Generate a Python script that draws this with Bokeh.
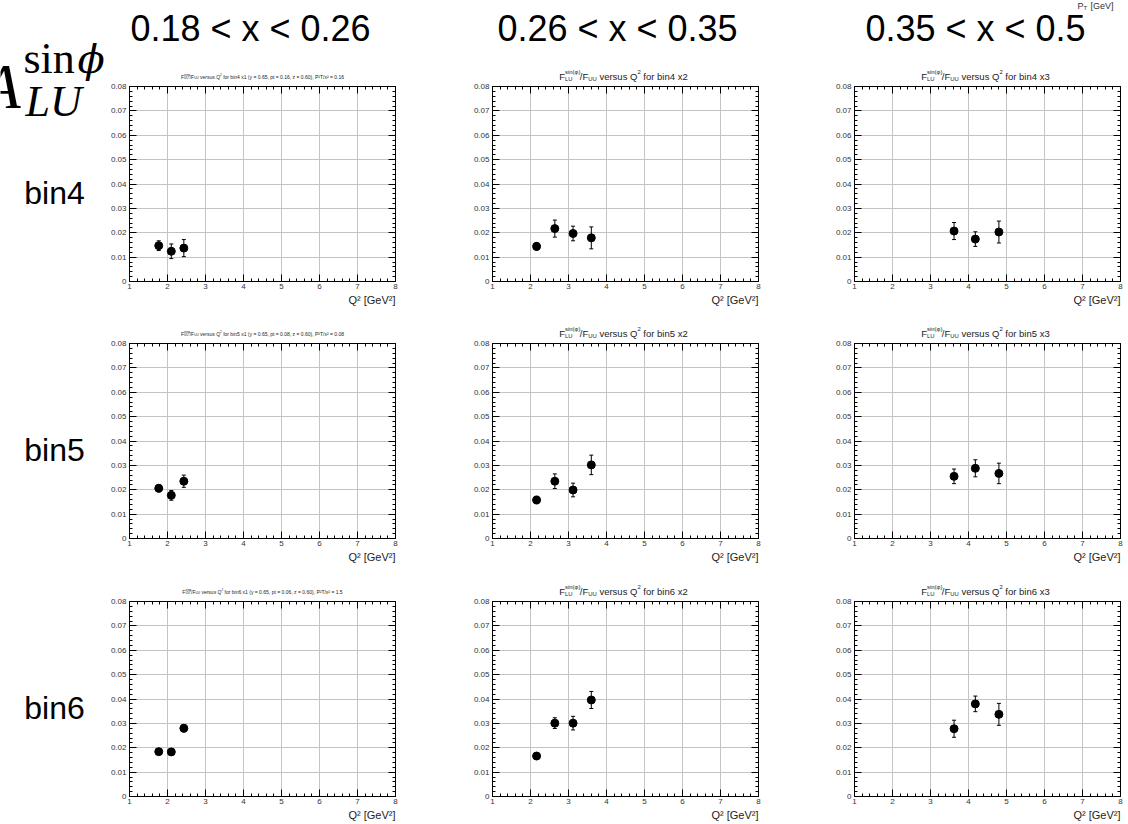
from bokeh.plotting import figure
from bokeh.layouts import row, column
from bokeh.models import (ColumnDataSource, Label, LinearAxis, Range1d, Whisker, Title,
                          TeeHead, FixedTicker, CustomJSTickFormatter)
from bokeh.embed import file_html
from bokeh.resources import INLINE

# ---------------------------------------------------------------- data
x_bin_labels = ["0.18 < x < 0.26", "0.26 < x < 0.35", "0.35 < x < 0.5"]
x_bin_tags = ["x1", "x2", "x3"]
pt_bin_labels = ["bin4", "bin5", "bin6"]

q2_x1 = [1.77, 2.10, 2.43]
q2_x2 = [2.16, 2.64, 3.12, 3.60]
q2_x3 = [3.62, 4.18, 4.80]

a_bin4_x1 = [0.0147, 0.0124, 0.0137]
e_bin4_x1 = [0.0020, 0.0030, 0.0035]
a_bin4_x2 = [0.0144, 0.0217, 0.0197, 0.0179]
e_bin4_x2 = [0.0015, 0.0035, 0.0030, 0.0045]
a_bin4_x3 = [0.0207, 0.0174, 0.0203]
e_bin4_x3 = [0.0035, 0.0030, 0.0045]

a_bin5_x1 = [0.0206, 0.0177, 0.0235]
e_bin5_x1 = [0.0015, 0.0020, 0.0025]
a_bin5_x2 = [0.0158, 0.0235, 0.0199, 0.0302]
e_bin5_x2 = [0.0015, 0.0030, 0.0028, 0.0040]
a_bin5_x3 = [0.0255, 0.0288, 0.0267]
e_bin5_x3 = [0.0030, 0.0035, 0.0042]

a_bin6_x1 = [0.0184, 0.0183, 0.0280]
e_bin6_x1 = [0.0010, 0.0013, 0.0015]
a_bin6_x2 = [0.0166, 0.0301, 0.0301, 0.0396]
e_bin6_x2 = [0.0012, 0.0022, 0.0028, 0.0035]
a_bin6_x3 = [0.0278, 0.0380, 0.0337]
e_bin6_x3 = [0.0035, 0.0032, 0.0045]

x1_kinematics = [
    "(y = 0.65, pt = 0.16, z = 0.60), P²T/x² = 0.16",
    "(y = 0.65, pt = 0.08, z = 0.60), P²T/x² = 0.08",
    "(y = 0.65, pt = 0.06, z = 0.60), P²T/x² = 1.5",
]

x_ticks = [1, 2, 3, 4, 5, 6, 7, 8]
y_ticks = [0, 0.01, 0.02, 0.03, 0.04, 0.05, 0.06, 0.07, 0.08]

q2_by_x = [q2_x1, q2_x2, q2_x3]
asym = [[a_bin4_x1, a_bin4_x2, a_bin4_x3],
        [a_bin5_x1, a_bin5_x2, a_bin5_x3],
        [a_bin6_x1, a_bin6_x2, a_bin6_x3]]
errs = [[e_bin4_x1, e_bin4_x2, e_bin4_x3],
        [e_bin5_x1, e_bin5_x2, e_bin5_x3],
        [e_bin6_x1, e_bin6_x2, e_bin6_x3]]

# ---------------------------------------------------------------- geometry
W, H = 1128, 824
LEFT_W = 104                       # strip holding the row labels
HEAD_H = 62                        # strip holding the x-bin headers
FW, FH = 266, 195                  # plot frame of every panel
col_borders = [(25, 45), (52, 46), (50, 8)]   # (left, right) around each frame
row_top = 4                                  # room for the mirrored top ticks
row_bottom = [30, 30, 28]
title_h = [20, 28, 29]                       # strips holding the panel titles

SANS = "Liberation Sans"
SERIF = "Liberation Serif"

ARIAL_W = {" ": .278, "(": .333, ")": .333, "/": .278, ",": .278, ".": .278,
           "=": .584, "²": .333, "i": .222, "l": .222, "f": .278, "t": .278,
           "r": .333, "s": .5, "v": .5, "x": .5, "y": .5, "z": .5, "F": .611,
           "L": .556, "U": .722, "Q": .778, "P": .667, "T": .611, "G": .778,
           "V": .667, "[": .278, "]": .278}


def text_w(s, size):
    return sum(ARIAL_W.get(c, 0.556) for c in s) * size


def text_strip(w, h):
    """A blank figure whose frame is the whole canvas; y runs downward in pixels."""
    s = figure(width=w, height=h, x_range=Range1d(0, w), y_range=Range1d(h, 0),
               min_border=0, x_axis_location=None, y_axis_location=None,
               toolbar_location=None, output_backend="svg", outline_line_color=None,
               background_fill_color="white", border_fill_color="white")
    s.grid.visible = False
    return s


def put(s, txt, x, y, size, font=SANS, style="normal", align="left",
        baseline="alphabetic", color="black"):
    lead = len(txt) - len(txt.lstrip(" "))
    x = x + text_w(" " * lead, size) if align == "left" else x
    s.add_layout(Label(x=x, y=y, text=txt.strip(" "), text_font_size=f"{size}px",
                       text_font=font, text_font_style=style, text_align=align,
                       text_baseline=baseline, text_color=color))


def rich(s, groups, cx, base_y, size, color="black"):
    """A line of text with super/subscripts, centred on cx."""
    small = size * 0.62
    widths = [max(text_w(t, small if k != "n" else size) for t, k in g) for g in groups]
    x = cx - sum(widths) / 2
    for g, w in zip(groups, widths):
        for t, k in g:
            if k == "n":
                put(s, t, x, base_y, size, color=color)
            elif k == "sup":
                put(s, t, x, base_y - 0.45 * size, small, color=color)
            else:
                put(s, t, x, base_y + 0.25 * size, small, color=color)
        x += w


def style_axis(ax, major_len, minor_len, labels=True):
    ax.axis_line_color = "black"
    ax.axis_line_width = 1
    ax.major_tick_line_color = "black"
    ax.minor_tick_line_color = "black"
    ax.major_tick_in = major_len
    ax.major_tick_out = 0
    ax.minor_tick_in = minor_len
    ax.minor_tick_out = 0
    ax.major_label_text_font = SANS
    ax.major_label_text_font_size = "8px" if labels else "1px"
    ax.major_label_text_color = "#333333"
    ax.major_label_standoff = 3 if labels else 0


x_minor = [1 + i * 0.2 for i in range(36)]
y_minor = [i * 0.002 for i in range(41)]
blank = CustomJSTickFormatter(code="return ''")

frame_left = [LEFT_W + col_borders[0][0],
              LEFT_W + sum(col_borders[0]) + FW + col_borders[1][0],
              LEFT_W + sum(col_borders[0]) + sum(col_borders[1]) + 2 * FW + col_borders[2][0]]


def make_panel(r, c):
    bl, br = col_borders[c]
    p = figure(frame_width=FW, frame_height=FH,
               x_range=Range1d(1, 8), y_range=Range1d(0, 0.08),
               min_border_left=bl, min_border_right=br,
               min_border_top=row_top, min_border_bottom=row_bottom[r],
               output_backend="svg", toolbar_location=None,
               background_fill_color="white", border_fill_color="white",
               outline_line_color="black")

    xt = FixedTicker(ticks=x_ticks, minor_ticks=x_minor)
    yt = FixedTicker(ticks=y_ticks, minor_ticks=y_minor)
    p.xaxis.ticker = xt
    p.yaxis.ticker = yt
    p.yaxis.major_label_overrides = {0: "0"}
    style_axis(p.xaxis[0], 7, 3)
    style_axis(p.yaxis[0], 7, 3)
    p.xaxis[0].major_label_standoff = 2

    top_ax = LinearAxis(ticker=xt, formatter=blank)
    right_ax = LinearAxis(ticker=yt, formatter=blank)
    style_axis(top_ax, 7, 3, labels=False)
    style_axis(right_ax, 7, 3, labels=False)
    p.add_layout(top_ax, "above")
    p.add_layout(right_ax, "right")

    p.xgrid.grid_line_color = "#c4c4c4"
    p.ygrid.grid_line_color = "#c4c4c4"

    xs, ys, es = q2_by_x[c], asym[r][c], errs[r][c]
    src = ColumnDataSource(dict(q2=xs, a=ys,
                                lo=[y - e for y, e in zip(ys, es)],
                                hi=[y + e for y, e in zip(ys, es)]))
    p.add_layout(Whisker(source=src, base="q2", lower="lo", upper="hi",
                         dimension="height", line_color="black", line_width=1,
                         lower_head=TeeHead(size=4, line_color="black", line_width=1),
                         upper_head=TeeHead(size=4, line_color="black", line_width=1)))
    p.scatter("q2", "a", source=src, marker="circle", size=8,
              fill_color="black", line_color="black")

    p.add_layout(Title(text="Q² [GeV²]", align="right", text_font=SANS,
                       text_font_size="11px", text_font_style="normal",
                       text_color="#222222", standoff=0), "below")
    return p


# ---------------------------------------------------------------- left strip
left = text_strip(LEFT_W, H)
put(left, "A", 20, 86, 64, font=SERIF, style="italic", align="right")
put(left, "sin", 23, 58, 44, font=SERIF)
put(left, "ϕ", 77, 58, 40, font="DejaVu Serif", style="italic")
put(left, "LU", 25, 101, 44, font=SERIF, style="italic")

row_frame_top = []
y = HEAD_H
for r in range(3):
    y += title_h[r] + row_top
    row_frame_top.append(y)
    y += FH + row_bottom[r]

for r in range(3):
    put(left, pt_bin_labels[r], 54, row_frame_top[r] + FH / 2 + 9, 32,
        align="center", baseline="middle")

# ---------------------------------------------------------------- header strip
head = text_strip(W - LEFT_W, HEAD_H)
header_cx = [250, 617, 975]
for c in range(3):
    put(head, x_bin_labels[c], header_cx[c] - LEFT_W, 28, 36, align="center",
        baseline="middle")
put(head, "P", 1077 - LEFT_W, 5, 9, color="#333333")
put(head, "T", 1083 - LEFT_W, 7, 6, color="#333333")
put(head, "[GeV]", 1090 - LEFT_W, 5, 9, color="#333333")

# ---------------------------------------------------------------- rows
blocks = [head]
strip_top = HEAD_H
for r in range(3):
    strip = text_strip(W - LEFT_W, title_h[r])
    base_y = row_frame_top[r] - 10 - strip_top
    for c in range(3):
        cx = frame_left[c] + FW / 2 - LEFT_W
        if c == 0:
            groups = [[("F", "n")], [("sinφ", "sup"), ("UU", "sub")], [("/F", "n")],
                      [("UU", "sub")], [(" versus Q", "n")], [("2", "sup")],
                      [(f" for {pt_bin_labels[r]} x1 " + x1_kinematics[r], "n")]]
            rich(strip, groups, cx, base_y, 5, color="#222222")
        else:
            groups = [[("F", "n")], [("sin(φ)", "sup"), ("LU", "sub")], [("/F", "n")],
                      [("UU", "sub")], [(" versus Q", "n")], [("2", "sup")],
                      [(f" for {pt_bin_labels[r]} {x_bin_tags[c]}", "n")]]
            rich(strip, groups, cx - 2, base_y, 9.5, color="#222222")
    blocks.append(strip)
    blocks.append(row(*[make_panel(r, c) for c in range(3)]))
    strip_top += title_h[r] + row_top + FH + row_bottom[r]

page = row(left, column(*blocks))

open("out.html", "w").write(file_html(page, INLINE))
